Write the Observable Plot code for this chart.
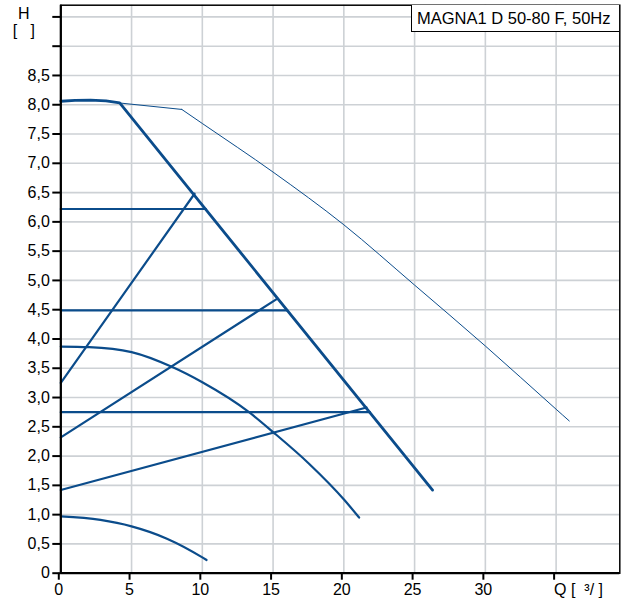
<!DOCTYPE html>
<html><head><meta charset="utf-8">
<script src="https://cdn.jsdelivr.net/npm/d3@7"></script>
<script src="https://cdn.jsdelivr.net/npm/@observablehq/plot@0.6"></script>
<style>
html,body{margin:0;padding:0;background:#fff;}
#wrap{position:relative;width:626px;height:602px;font-family:"Liberation Sans",Arial,sans-serif;}
#legend{position:absolute;left:411px;top:5px;width:208px;height:27px;border:1px solid #000;border-top:none;border-right:none;box-sizing:border-box;background:#fff;font-size:16.5px;line-height:26px;padding-left:5px;color:#000;white-space:nowrap;}
</style></head><body><div id="wrap"></div>
<script>
// ---- data ----
const title = "MAGNA1 D 50-80 F, 50Hz";
const yTitle = "H";
const yUnit = "[\u00a0\u00a0\u00a0]";
const xLabel = "Q [\u00a0\u00a0\u00b3/ ]";
const xTicks = [0, 5, 10, 15, 20, 25, 30, 35];
const yTicks = [0, 0.5, 1, 1.5, 2, 2.5, 3, 3.5, 4, 4.5, 5, 5.5, 6, 6.5, 7, 7.5, 8, 8.5, 9, 9.5];
const yLabelMax = 8.5;

// Max curve (thick)
const maxQ = [0, 1, 2.1, 3.2, 4.16, 26.27];
const maxH = [8.06, 8.075, 8.08, 8.065, 8.03, 1.42];
// Max curve extension (thin): flat part, then the falling part
const thinFlatQ = [4.16, 8.55];
const thinFlatH = [8.03, 7.92];
const thinQ = [8.55, 10, 15, 20, 25, 30, 35, 35.93];
const thinH = [7.92, 7.68, 6.85, 5.95, 4.92, 3.88, 2.80, 2.60];
// Constant pressure lines
const cpH = [6.22, 4.49, 2.75];
const cpEndQ = [10.25, 16.0, 21.85];
// Proportional pressure lines
const ppStartH = [3.25, 2.32, 1.42];
const ppEndQ = [9.45, 15.25, 21.6];
const ppEndH = [6.48, 4.68, 2.83];
// Speed curves
const c1Q = [0, 2, 5, 7.88, 10, 13.3, 15, 17.54, 20.04, 21.08];
const c1H = [3.87, 3.86, 3.775, 3.52, 3.26, 2.75, 2.41, 1.87, 1.25, 0.95];
const c2Q = [0, 2.8, 5, 7.5, 10, 10.3];
const c2H = [0.97, 0.91, 0.80, 0.59, 0.27, 0.225];

// ---- build tables ----
const zipQH = (q, h) => q.map((v, i) => ({q: v, h: h[i]}));
const segs = [];
cpH.forEach((h, i) => { segs.push({id: "cp" + i, q: 0, h}); segs.push({id: "cp" + i, q: cpEndQ[i], h}); });
ppStartH.forEach((h, i) => { segs.push({id: "pp" + i, q: 0, h}); segs.push({id: "pp" + i, q: ppEndQ[i], h: ppEndH[i]}); });

const col = "#0b4c8b";
const fmt = d => d === 0 ? "0" : (d > yLabelMax ? "" : d.toFixed(1).replace(".", ","));

const chart = Plot.plot({
  width: 626, height: 602,
  marginLeft: 60.3, marginRight: 6.7, marginTop: 4.7, marginBottom: 29.3,
  x: {domain: [0, 39.5]},
  y: {domain: [0, 9.7]},
  style: {fontFamily: "Liberation Sans, Arial, sans-serif", fontSize: "16px", color: "#000", background: "#fff"},
  marks: [
    Plot.gridX(xTicks, {stroke: "#cdd1d5", strokeOpacity: 1, strokeWidth: 1.6}),
    Plot.gridY(yTicks, {stroke: "#cdd1d5", strokeOpacity: 1, strokeWidth: 1.6}),
    Plot.line(segs, {x: "q", y: "h", z: "id", stroke: col, strokeWidth: 2.2}),
    Plot.line(zipQH(c1Q, c1H), {x: "q", y: "h", stroke: col, strokeWidth: 2.2, curve: "monotone-x"}),
    Plot.line(zipQH(c2Q, c2H), {x: "q", y: "h", stroke: col, strokeWidth: 2.2, curve: "monotone-x"}),
    Plot.line(zipQH(thinFlatQ, thinFlatH), {x: "q", y: "h", stroke: col, strokeWidth: 1}),
    Plot.line(zipQH(thinQ, thinH), {x: "q", y: "h", stroke: col, strokeWidth: 1, curve: "monotone-x"}),
    Plot.line(zipQH(maxQ, maxH), {x: "q", y: "h", stroke: col, strokeWidth: 2.8, strokeLinejoin: "round"}),
    Plot.frame({stroke: "#000", strokeWidth: 1.5}),
    Plot.ruleX([0], {stroke: "#000", strokeWidth: 2.2}),
    Plot.ruleY([0], {stroke: "#000", strokeWidth: 2.2}),
    Plot.axisX({ticks: xTicks, label: null, tickSize: 7, tickPadding: 3, strokeWidth: 2, fontSize: 16, tickFormat: d => d === 35 ? "" : String(d), dx: -2}),
    Plot.axisY({ticks: yTicks, label: null, tickSize: 8, tickPadding: 3, strokeWidth: 2, fontSize: 16, tickFormat: fmt}),
    Plot.text([xLabel], {x: () => 35, text: d => d, frameAnchor: "bottom", textAnchor: "start", lineAnchor: "top", dy: 10, dx: -2, fontSize: 16}),
    Plot.text([yTitle], {text: d => d, frameAnchor: "top-left", textAnchor: "middle", lineAnchor: "middle", dx: -37, dy: 9, fontSize: 16}),
    Plot.text([yUnit], {text: d => d, frameAnchor: "top-left", textAnchor: "middle", lineAnchor: "middle", dx: -37, dy: 25.5, fontSize: 16})
  ]
});
const wrap = document.getElementById("wrap");
wrap.appendChild(chart);
const lg = document.createElement("div");
lg.id = "legend";
lg.textContent = title;
wrap.appendChild(lg);
</script>
</body></html>
